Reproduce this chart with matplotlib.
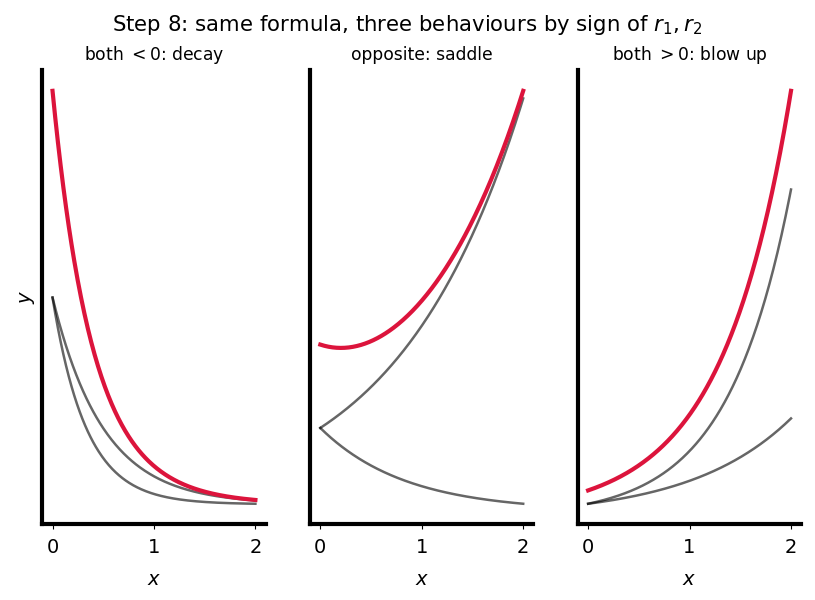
import numpy as np
import matplotlib
matplotlib.use("Agg")
import matplotlib.pyplot as plt

# panel titles and exponent pairs (r1, r2), coefficients c1 = c2 = 1
titles = ["both $<0$: decay", "opposite: saddle", "both $>0$: blow up"]
r1_vals = [-2.0, 0.8, 1.0]
r2_vals = [-3.0, -1.2, 1.6]
c1 = 1.0
c2 = 1.0

x = np.linspace(0, 2, 300)

fig, axes = plt.subplots(1, 3, figsize=(8.15, 6.0), dpi=100)
fig.subplots_adjust(left=0.052, right=0.983, top=0.883, bottom=0.126, wspace=0.2)

for ax, title, r1, r2 in zip(axes, titles, r1_vals, r2_vals):
    y1 = c1 * np.exp(r1 * x)
    y2 = c2 * np.exp(r2 * x)
    ax.plot(x, y1, color="black", alpha=0.6, lw=1.8)
    ax.plot(x, y2, color="black", alpha=0.6, lw=1.8)
    ax.plot(x, y1 + y2, color="crimson", lw=3)
    ax.set_title(title, fontsize=12.3, pad=7)
    ax.set_xlabel("$x$", fontsize=14, labelpad=10)
    ax.set_xticks([0, 1, 2])
    ax.set_yticks([])
    ax.tick_params(axis="x", labelsize=14, pad=6)
    for s in ["top", "right"]:
        ax.spines[s].set_visible(False)
    for s in ["left", "bottom"]:
        ax.spines[s].set_linewidth(3)

axes[0].set_ylabel("$y$", fontsize=14)
fig.suptitle("Step 8: same formula, three behaviours by sign of $r_1, r_2$", fontsize=15.3, y=0.978)

fig.savefig("out.png", dpi=100)
